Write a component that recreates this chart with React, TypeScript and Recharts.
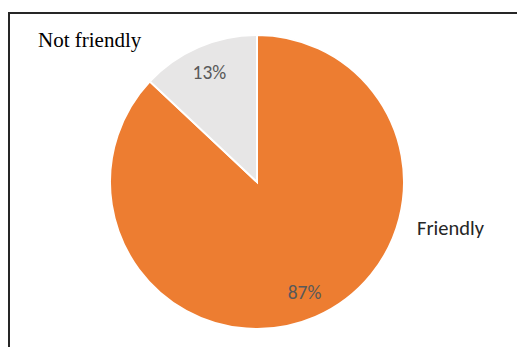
import React from "react";
import { PieChart, Pie, Cell } from "recharts";

const categories = ["Friendly", "Not friendly"];
const values = [87, 13];
const percentLabels = ["87%", "13%"];
const colors = ["#ED7D31", "#E7E6E6"];

const data = categories.map((name, i) => ({ name, value: values[i], label: percentLabels[i] }));

const RAD = Math.PI / 180;

const renderLabel = (props: any) => {
  const { cx, cy, midAngle, outerRadius, index } = props;
  const r = outerRadius * 0.815;
  const x = cx + r * Math.cos(-midAngle * RAD);
  const y = cy + r * Math.sin(-midAngle * RAD);
  return (
    <text
      x={x}
      y={y}
      fill="#595959"
      fontSize={19.5}
      fontFamily="Carlito, Lato, sans-serif"
      textAnchor="middle"
      dominantBaseline="central"
    >
      {data[index].label}
    </text>
  );
};

export default function App() {
  return (
    <div style={{ position: "absolute", left: 0, top: 0, width: 517, height: 347, background: "#fff" }}>
      <div style={{ position: "absolute", left: 8, top: 12, width: 509, height: 335, borderTop: "2px solid #262626", borderLeft: "2px solid #262626", boxSizing: "border-box" }} />
      <PieChart width={517} height={347} margin={{ top: 0, right: 0, bottom: 0, left: 0 }} style={{ position: "absolute", left: 0, top: 0 }}>
        <Pie
          data={data}
          dataKey="value"
          nameKey="name"
          cx={257}
          cy={182}
          outerRadius={147}
          startAngle={90}
          endAngle={-270}
          stroke="#ffffff"
          strokeWidth={2}
          label={renderLabel}
          labelLine={false}
          isAnimationActive={false}
        >
          {data.map((d, i) => (
            <Cell key={d.name} fill={colors[i]} />
          ))}
        </Pie>
      </PieChart>
      <svg width={517} height={347} style={{ position: "absolute", left: 0, top: 0, pointerEvents: "none" }}>
        <text x={38} y={47} fontSize={21} fontFamily="'Liberation Serif', 'Times New Roman', serif" fill="#000">
          {categories[1]}
        </text>
        <text x={417} y={235} fontSize={20.5} fontFamily="Carlito, Lato, sans-serif" fill="#262626">
          {categories[0]}
        </text>
      </svg>
    </div>
  );
}
